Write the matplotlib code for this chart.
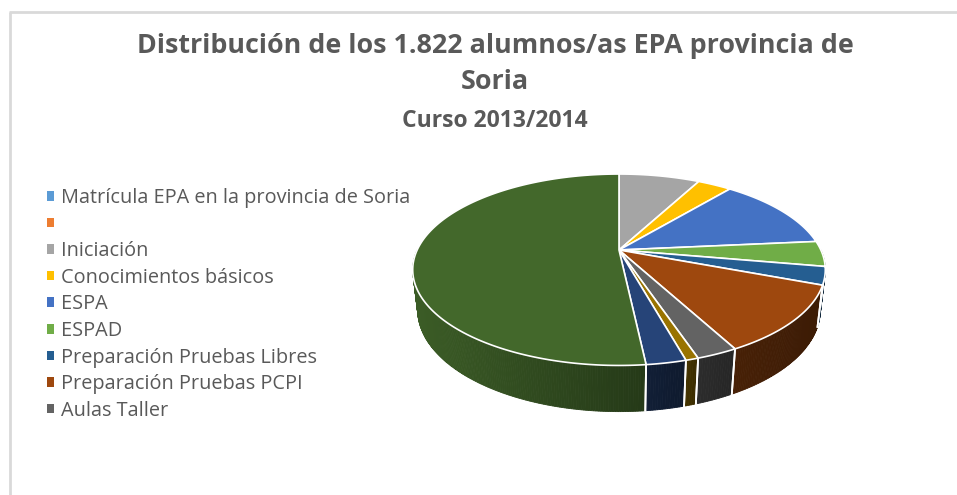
import matplotlib
matplotlib.use("Agg")
import numpy as np
import matplotlib.pyplot as plt
from matplotlib.patches import Polygon, Patch
from matplotlib.colors import to_rgb

# ---------------- data ----------------
categories = [
    "Matrícula EPA en la provincia de Soria",
    "",
    "Iniciación",
    "Conocimientos básicos",
    "ESPA",
    "ESPAD",
    "Preparación Pruebas Libres",
    "Preparación Pruebas PCPI",
    "Aulas Taller",
    "Español para extranjeros",
    "Otras enseñanzas",
    "Enseñanzas no formales",
]
values = [0, 0, 141, 59, 228, 78, 55, 208, 49, 15, 47, 942]
legend_shown = 9  # the legend box only shows the first nine entries

colors = ["#5B9BD5", "#ED7D31", "#A5A5A5", "#FFC000", "#4472C4", "#70AD47",
          "#255E91", "#9E480E", "#636363", "#997300", "#264478", "#43682B"]

title_lines = ["Distribución de los 1.822 alumnos/as EPA provincia de", "Soria"]
subtitle = "Curso 2013/2014"

# ---------------- figure ----------------
W, H = 957, 495
fig = plt.figure(figsize=(W / 100, H / 100), dpi=100)
ax = fig.add_axes([0, 0, 1, 1])
ax.set_xlim(0, W)
ax.set_ylim(H, 0)
ax.axis("off")

FONT = "Open Sans"
TXT = "#595959"

# chart-area border (top and left visible)
ax.plot([10, 10], [12, H + 5], color="#d9d9d9", lw=2, solid_capstyle="butt")
ax.plot([9, W + 5], [12, 12], color="#d9d9d9", lw=2, solid_capstyle="butt")

# ---------------- 3D pie projection ----------------
cx, cy = 619, 250
a = np.radians(27.0)
s_, c_ = np.sin(a), np.cos(a)
D, F, T = 4.32, 872.0, 0.225


def proj(phi, r=1.0, y=0.0):
    u = r * np.sin(phi)
    w = -r * np.cos(phi)
    depth = D - y * s_ - w * c_
    X = cx + F * u / depth
    up = F * (y * c_ - w * s_) / depth
    return X, cy - up


vals = np.array(values, dtype=float)
frac = vals / vals.sum()
ends = np.cumsum(frac) * 2 * np.pi
starts = ends - frac * 2 * np.pi


def shade(col, f):
    r, g, b = to_rgb(col)
    return (r * f, g * f, b * f)


# side walls (front half only)
for i in range(len(vals)):
    if vals[i] <= 0:
        continue
    p0 = max(starts[i], np.pi / 2)
    p1 = min(ends[i], 3 * np.pi / 2)
    if p1 <= p0:
        continue
    big = frac[i] > 0.3
    n = max(4, int((p1 - p0) / 0.01))
    edges = np.linspace(p0, p1, n + 1)
    for k in range(n):
        ph = np.linspace(edges[k], edges[k + 1], 3)
        xt, yt = proj(ph, 1, 0)
        xb, yb = proj(ph[::-1], 1, -T)
        tpos = (proj(ph.mean())[0] - proj(p1)[0]) / (proj(p0)[0] - proj(p1)[0] + 1e-9)
        if big:
            f = 0.88 - 0.33 * tpos
        else:
            f = 0.45 - 0.07 * tpos
        colr = shade(colors[i], f)
        ax.add_patch(Polygon(np.column_stack([np.r_[xt, xb], np.r_[yt, yb]]),
                             closed=True, facecolor=colr, edgecolor=colr, lw=0.6,
                             zorder=2))
    for p in (starts[i], ends[i]):
        if np.pi / 2 < p < 3 * np.pi / 2:
            x0, y0 = proj(p, 1, 0)
            x1, y1 = proj(p, 1, -T)
            ax.plot([x0, x1], [y0, y1], color="white", lw=1.3, zorder=3)

# top faces
for i in range(len(vals)):
    if vals[i] <= 0:
        continue
    n = max(3, int((ends[i] - starts[i]) / 0.01))
    ph = np.linspace(starts[i], ends[i], n)
    xa, ya = proj(ph)
    xs = np.r_[cx, xa]
    ys = np.r_[cy, ya]
    ax.add_patch(Polygon(np.column_stack([xs, ys]), closed=True,
                         facecolor=colors[i], edgecolor="white", lw=1.2,
                         joinstyle="round", zorder=4))

# ---------------- titles ----------------
fig.text(495 / W, 1 - 46 / H, title_lines[0], ha="center", va="center",
         fontsize=19.4, fontweight="bold", color=TXT, family=FONT)
fig.text(495 / W, 1 - 82 / H, title_lines[1], ha="center", va="center",
         fontsize=19.4, fontweight="bold", color=TXT, family=FONT)
fig.text(495 / W, 1 - 121 / H, subtitle, ha="center", va="center",
         fontsize=16.5, fontweight="bold", color=TXT, family=FONT)

# ---------------- legend ----------------
handles = [Patch(facecolor=colors[i], edgecolor="none") for i in range(legend_shown)]
labels = categories[:legend_shown]
leg = ax.legend(handles, labels, loc="upper left",
                bbox_to_anchor=(47 / W, 1 - 188 / H), bbox_transform=fig.transFigure,
                frameon=False, labelcolor=TXT,
                handlelength=0.36, handleheight=0.36, handletextpad=0.35,
                labelspacing=0.332, borderpad=0, borderaxespad=0,
                prop={"family": FONT, "size": 14.3})

fig.savefig("out.png", dpi=100)
